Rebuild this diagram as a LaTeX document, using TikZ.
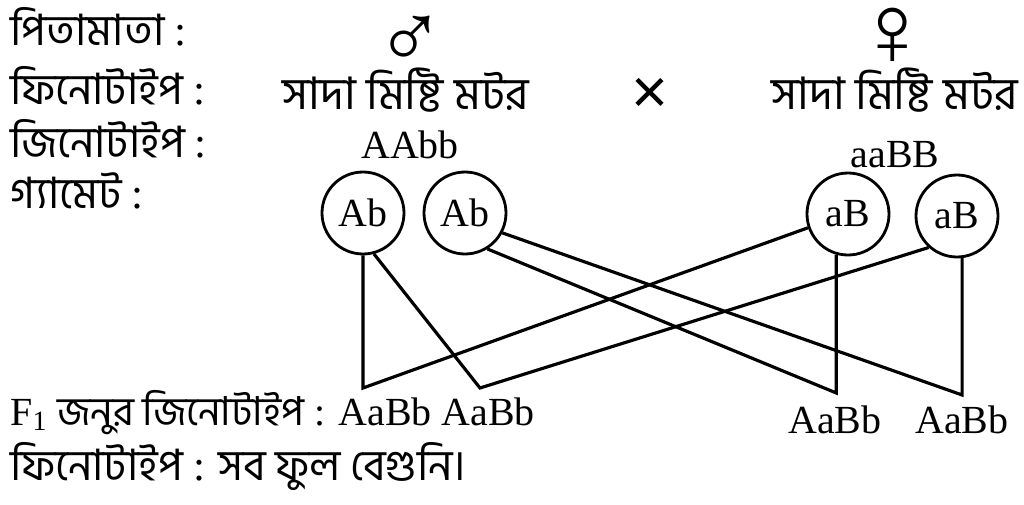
\documentclass[tikz,border=0pt]{standalone}
\usepackage{fontspec}
\setmainfont{Liberation Serif}
\newfontfamily\bn[Script=Bengali]{Hind Siliguri}
\newfontfamily\sansx{Liberation Sans}
\usetikzlibrary{positioning}

\begin{document}
\begin{tikzpicture}[scale=0.2]
        \tikzstyle{every node}+=[inner sep=0pt, font=\fontsize{22.7}{26}\selectfont]
        \tikzstyle{gamete}=[draw, circle, line width=1.6pt, minimum size=1.64cm]
        \tikzstyle{lbl}=[anchor=base west]
        \tikzstyle{bntext}=[font=\fontsize{24.6}{28}\selectfont\bn]
        \tikzstyle{phentext}=[font=\fontsize{25.5}{28}\selectfont\bn]
        \tikzstyle{link}=[line width=1.8pt]
        \useasboundingbox (0,0) rectangle (102.4,-50.4);
        % labels on the left
        \node [lbl, bntext] (parents) at (1.0,-4.5) {পিতামাতা {\rmfamily :}};
        \node [lbl, bntext] (phen) at (1.0,-10.4) {ফিনোটাইপ {\rmfamily :}};
        \node [lbl, bntext] (gen) at (1.0,-15.7) {জিনোটাইপ {\rmfamily :}};
        \node [lbl, bntext] (gam) at (1.0,-20.8) {গ্যামেট {\rmfamily :}};
        % parents
        \node [font=\fontsize{53}{53}\selectfont] (male) at (41.0,-4.2) {♂};
        \node [font=\fontsize{58}{58}\selectfont] (female) at (89.3,-3.7) {♀};
        \node [phentext] (phenm) at (40.6,-9.0) {সাদা মিষ্টি মটর};
        \node [font=\fontsize{36}{36}\selectfont\sansx] (cross) at (65.0,-9.6) {×};
        \node [phentext] (phenf) at (89.5,-9.0) {সাদা মিষ্টি মটর};
        \node (genm) at (41.0,-14.5) {AAbb};
        \node (genf) at (89.5,-15.5) {aaBB};
        % gametes
        \node [gamete] (ab1) at (36.3,-21.3) {Ab};
        \node [gamete] (ab2) at (46.5,-21.3) {Ab};
        \node [gamete] (aB1) at (84.8,-21.4) {aB};
        \node [gamete] (aB2) at (95.7,-21.6) {aB};
        % offspring
        \node [lbl] (fone) at (1.0,-42.5) {F\textsubscript{1} {\bn জনুর জিনোটাইপ} : AaBb AaBb};
        \node (fthree) at (83.5,-42.0) {AaBb};
        \node (ffour) at (96.2,-42.0) {AaBb};
        \node [lbl, bntext] (ftwo) at (1.0,-48.0) {ফিনোটাইপ {\rmfamily :} সব ফুল বেগুনি।};
        % crossing lines
        \coordinate (v1) at (36.3,-38.8);
        \coordinate (v2) at (48.0,-38.8);
        \path (0,-39.3) coordinate (y3) (0,-39.5) coordinate (y4);
        \coordinate (v3) at (aB1.-106 |- y3);
        \coordinate (v4) at (aB2.-83 |- y4);
        \draw [link] (ab1.south) -- (v1) -- (aB1.199);
        \draw [link] (ab1.-75) -- (v2) -- (aB2.228);
        \draw [link] (ab2.-58) -- (v3) -- (aB1.-106);
        \draw [link] (ab2.-28) -- (v4) -- (aB2.-83);
\end{tikzpicture}
\end{document}
